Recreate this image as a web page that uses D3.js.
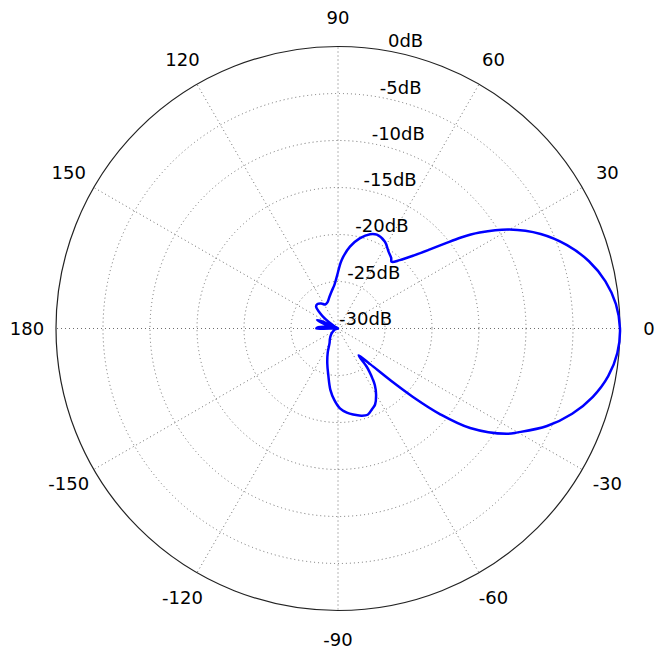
<!DOCTYPE html>
<html>
<head>
<meta charset="utf-8">
<script src="https://cdn.jsdelivr.net/npm/d3@7"></script>
<style>
  html, body { margin: 0; padding: 0; background: #fff; }
  svg { display: block; }
  text { font-family: "DejaVu Sans", sans-serif; font-size: 18px; fill: #000; }
</style>
</head>
<body>
<svg id="chart" width="664" height="656"></svg>
<script>
const angles = [
  -180, -172, -165, -150, -138, -128, -120, -113, -107, -102, -97, -93, -88.6, -84, -80, -75, -71, -67, -64, -60, -57, -55.5, -54, -53, -52.5,
  -48, -44.7, -42.4, -40, -37, -32, -30, -25, -20, -15, -10, -5,
  0, 5, 10, 15, 20, 25, 30, 34.1, 36.6, 38.5, 40.7, 43.7, 47.9, 51.2,
  53, 56.8, 61.6, 67.5, 71.2, 76.3, 81.7, 86.9, 91.4, 95, 99, 105, 112, 118, 124, 130, 135, 139, 143, 148,
  152, 156, 158, 162, 167, 172, 176
];
const gainDb = [
  -27.7, -30, -29.7, -29.4, -29.0, -28.6, -28.2, -27.2, -26.1, -25.0, -23.4, -22.4, -21.5, -21.0, -20.7, -20.4, -20.3, -20.7, -21.0, -21.9, -22.8, -23.5, -24.3, -25.0, -26.4,
  -24.9, -22.2, -19.2, -15.8, -12.4, -8.85, -7.9, -5.47, -3.49, -1.93, -0.81, -0.17,
  0, -0.32, -1.11, -2.36, -4.07, -6.21, -8.94, -11.8, -13.8, -15.5, -17.1, -18.7, -20.2, -20.9,
  -20.6, -20.2, -19.5, -19.2, -19.4, -20.1, -21.2, -22.7, -24.5, -25.4, -25.9, -26.5, -27.0, -27.1, -26.8, -26.6, -26.7, -27.4, -28.3, -29.5,
  -30, -28.0, -27.6, -28.5, -29.3, -28.6, -27.9
];
const ringDb = [0, -5, -10, -15, -20, -25, -30];
const ringLabels = ["0dB", "-5dB", "-10dB", "-15dB", "-20dB", "-25dB", "-30dB"];
const spokeAngles = [0, 30, 60, 90, 120, 150, 180, 210, 240, 270, 300, 330];
const spokeLabels = ["0", "30", "60", "90", "120", "150", "180", "-150", "-120", "-90", "-60", "-30"];

const cx = 338, cy = 328.5, R = 282;
const svg = d3.select("#chart");
const g = svg.append("g").attr("transform", `translate(${cx},${cy})`);

const r = d3.scaleLinear().domain([-30, 0]).range([0, R]).clamp(true);
const toRad = d => (90 - d) * Math.PI / 180; // d3 radial: 0 at top, clockwise

// grid rings (dotted)
g.selectAll("circle.ring")
  .data(ringDb.filter(d => d < 0 && d > -30))
  .join("circle")
  .attr("class", "ring")
  .attr("r", d => r(d))
  .attr("fill", "none")
  .attr("stroke", "#6e6e6e")
  .attr("stroke-width", 1)
  .attr("stroke-dasharray", "1,3");

// spokes (dotted)
g.selectAll("line.spoke")
  .data(spokeAngles)
  .join("line")
  .attr("class", "spoke")
  .attr("x1", 0).attr("y1", 0)
  .attr("x2", d => R * Math.cos(d * Math.PI / 180))
  .attr("y2", d => -R * Math.sin(d * Math.PI / 180))
  .attr("stroke", "#6e6e6e")
  .attr("stroke-width", 1)
  .attr("stroke-dasharray", "1,3");

// outer frame
g.append("circle")
  .attr("r", r(0))
  .attr("fill", "none")
  .attr("stroke", "#222")
  .attr("stroke-width", 1.2);

// pattern curve
const pts = angles.map((a, i) => [a, gainDb[i]]);
const line = d3.lineRadial()
  .angle(d => toRad(d[0]))
  .radius(d => r(d[1]))
  .curve(d3.curveCatmullRomClosed.alpha(0.5));
g.append("path")
  .attr("d", line(pts))
  .attr("fill", "none")
  .attr("stroke", "#0000ff")
  .attr("stroke-width", 2.5)
  .attr("stroke-linejoin", "round");

// angle labels
const labR = 311;
g.selectAll("text.ang")
  .data(spokeAngles)
  .join("text")
  .attr("class", "ang")
  .attr("x", d => labR * Math.cos(d * Math.PI / 180))
  .attr("y", d => -labR * Math.sin(d * Math.PI / 180))
  .attr("dy", "0.36em")
  .attr("text-anchor", "middle")
  .text((d, i) => spokeLabels[i]);

// radial labels at 80 degrees
const la = 80 * Math.PI / 180;
g.selectAll("text.rl")
  .data(ringDb)
  .join("text")
  .attr("class", "rl")
  .attr("x", d => r(d) * Math.cos(la) + 1)
  .attr("y", d => -r(d) * Math.sin(la) - 3.5)
  .attr("text-anchor", "start")
  .text((d, i) => ringLabels[i]);
</script>
</body>
</html>
